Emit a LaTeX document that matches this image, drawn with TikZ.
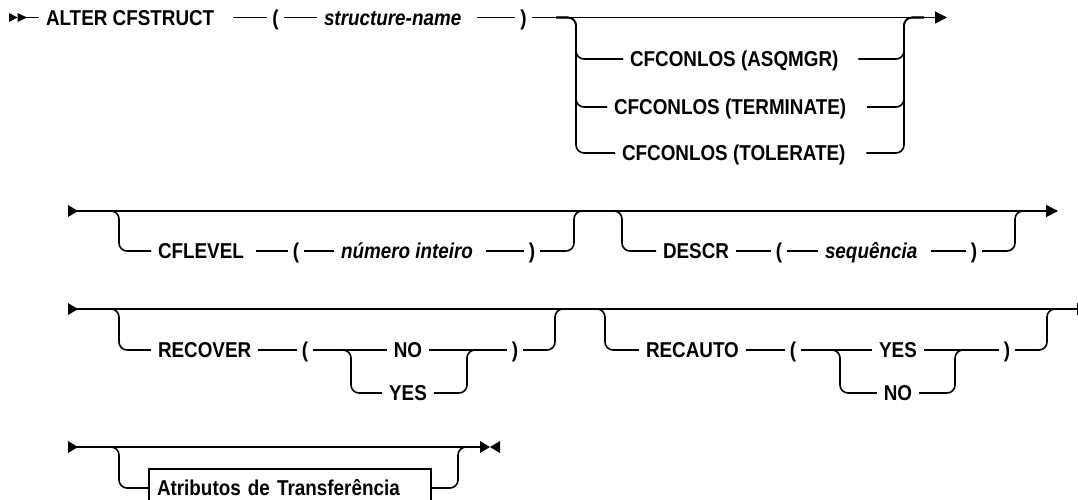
\documentclass[tikz,border=0pt]{standalone}
\usepackage{fontspec}
\setmainfont{Liberation Sans}[FakeStretch=0.877]
\usetikzlibrary{arrows.meta}
\newcommand\kwfont{\fontsize{21.5pt}{25pt}\selectfont\bfseries}
\begin{document}
\begin{tikzpicture}[x=1pt,y=-1pt,
  line width=1.6pt,
  kw/.style={font=\kwfont, inner xsep=7pt, inner ysep=0pt, outer sep=0pt, text height=15.4pt, text depth=0pt, anchor=west},
  pa/.style={kw, anchor=center, inner xsep=5pt},
  opt/.style={kw, anchor=center},
  var/.style={kw, font=\kwfont\itshape},
  branchpath/.style={rounded corners=8pt},
  endarrow/.style={-{Triangle[length=12pt,width=12pt]}},
  boxed/.style={kw, draw, inner xsep=8pt, minimum height=38pt, text width=266pt, align=left}
]
\useasboundingbox (0,0) rectangle (1078,499);
\fill[white] (0,0) rectangle (1078,499);
\clip (0,0) rectangle (1078,499);

% ---------------- row 1
\fill (9,13) -- (17.5,17.5) -- (9,22) -- cycle;
\fill (17.5,13) -- (27,17.5) -- (17.5,22) -- cycle;
\coordinate (s1) at (26,17.5);
\coordinate (e1) at (947,17.5);
\node[kw] (alter) at (39,17.5) {ALTER CFSTRUCT\hspace*{12pt}};
\node[pa] (lp1) at (275.5,17.5) {(};
\node[var] (sname) at (317,17.5) {structure-name\hspace*{9pt}};
\node[pa] (rp1) at (523.5,17.5) {)};
\draw (s1) -- (alter);
\draw (alter) -- (lp1);
\draw (lp1) -- (sname);
\draw (sname) -- (rp1);
\draw[endarrow] (rp1) -- (e1);
\coordinate (a1) at (556,17.5);
\coordinate (l1) at (576,17.5);
\coordinate (r1) at (904,17.5);
\coordinate (b1) at (924,17.5);
\node[kw] (asq) at (623,59) {CFCONLOS (ASQMGR)\hspace*{13pt}};
\node[kw] (term) at (607,107) {CFCONLOS (TERMINATE)\hspace*{14pt}};
\node[kw] (tol) at (615,153) {CFCONLOS (TOLERATE)\hspace*{14pt}};
\foreach \n in {asq,term,tol}{
  \draw[branchpath] (a1) -| (l1 |- \n.west) -- (\n.west);
  \draw[branchpath] (\n.east) -- (r1 |- \n.east) |- (b1);
}

% ---------------- row 2
\fill (68,205) -- (78,211) -- (68,217) -- cycle;
\coordinate (s2) at (77,211);
\coordinate (e2) at (1058,211);
\draw[endarrow] (s2) -- (e2);
\coordinate (a2) at (100,211);
\coordinate (l2) at (119,211);
\coordinate (r2) at (574,211);
\coordinate (b2) at (594,211);
\node[kw] (cfl) at (151,251) {CFLEVEL\hspace*{5pt}};
\node[pa] (lp2) at (296,251) {(};
\node[var] (num) at (334,251) {número inteiro\hspace*{6pt}};
\node[pa] (rp2) at (532,251) {)};
\draw[branchpath] (a2) -| (l2 |- cfl.west) -- (cfl.west);
\draw (cfl) -- (lp2);
\draw (lp2) -- (num);
\draw (num) -- (rp2);
\draw[branchpath] (rp2.east) -- (r2 |- rp2.east) |- (b2);
\coordinate (a3) at (603,211);
\coordinate (l3) at (622,211);
\coordinate (r3) at (1015,211);
\coordinate (b3) at (1035,211);
\node[kw] (descr) at (656,251) {DESCR};
\node[pa] (lp3) at (779,251) {(};
\node[var] (seq) at (818,251) {sequência\hspace*{7pt}};
\node[pa] (rp3) at (974,251) {)};
\draw[branchpath] (a3) -| (l3 |- descr.west) -- (descr.west);
\draw (descr) -- (lp3);
\draw (lp3) -- (seq);
\draw (seq) -- (rp3);
\draw[branchpath] (rp3.east) -- (r3 |- rp3.east) |- (b3);

% ---------------- row 3
\fill (68,303) -- (78,309) -- (68,315) -- cycle;
\coordinate (s3) at (77,309);
\coordinate (e3) at (1089,309);
\draw[endarrow] (s3) -- (e3);
\coordinate (a4) at (100,309);
\coordinate (l4) at (119,309);
\coordinate (r4) at (555,309);
\coordinate (b4) at (575,309);
\node[kw] (recover) at (151,350) {RECOVER};
\node[pa] (lp4) at (305,350) {(};
\node[opt] (no1) at (408,350) {NO};
\node[opt] (yes1) at (408,393) {YES};
\node[pa] (rp4) at (515,350) {)};
\draw[branchpath] (a4) -| (l4 |- recover.west) -- (recover.west);
\draw (recover) -- (lp4);
\draw (lp4) -- (no1);
\draw (no1) -- (rp4);
\draw[branchpath] (rp4.east) -- (r4 |- rp4.east) |- (b4);
\coordinate (ia1) at (333,350);
\coordinate (il1) at (351,350);
\coordinate (ir1) at (467,350);
\coordinate (ib1) at (485,350);
\draw[branchpath] (ia1) -| (il1 |- yes1.west) -- (yes1.west);
\draw[branchpath] (yes1.east) -- (ir1 |- yes1.east) |- (ib1);
\coordinate (a5) at (586,309);
\coordinate (l5) at (605,309);
\coordinate (r5) at (1047,309);
\coordinate (b5) at (1067,309);
\node[kw] (recauto) at (639,350) {RECAUTO};
\node[pa] (lp5) at (793,350) {(};
\node[opt] (yes2) at (898,350) {YES};
\node[opt] (no2) at (898,393) {NO};
\node[pa] (rp5) at (1007,350) {)};
\draw[branchpath] (a5) -| (l5 |- recauto.west) -- (recauto.west);
\draw (recauto) -- (lp5);
\draw (lp5) -- (yes2);
\draw (yes2) -- (rp5);
\draw[branchpath] (rp5.east) -- (r5 |- rp5.east) |- (b5);
\coordinate (ia2) at (822,350);
\coordinate (il2) at (840,350);
\coordinate (ir2) at (955,350);
\coordinate (ib2) at (973,350);
\draw[branchpath] (ia2) -| (il2 |- no2.west) -- (no2.west);
\draw[branchpath] (no2.east) -- (ir2 |- no2.east) |- (ib2);

% ---------------- row 4
\fill (68,441) -- (78,447) -- (68,453) -- cycle;
\coordinate (s4) at (77,447);
\coordinate (e4) at (481,447);
\draw (s4) -- (e4);
\fill (480,441) -- (490,447) -- (480,453) -- cycle;
\fill (500,441) -- (490,447) -- (500,453) -- cycle;
\coordinate (a6) at (100,447);
\coordinate (l6) at (119,447);
\coordinate (r6) at (458,447);
\coordinate (b6) at (478,447);
\node[boxed] (attr) at (149,488) {Atributos de Transferência};
\draw[branchpath] (a6) -| (l6 |- attr.west) -- (attr.west);
\draw[branchpath] (attr.east) -- (r6 |- attr.east) |- (b6);
\end{tikzpicture}
\end{document}
